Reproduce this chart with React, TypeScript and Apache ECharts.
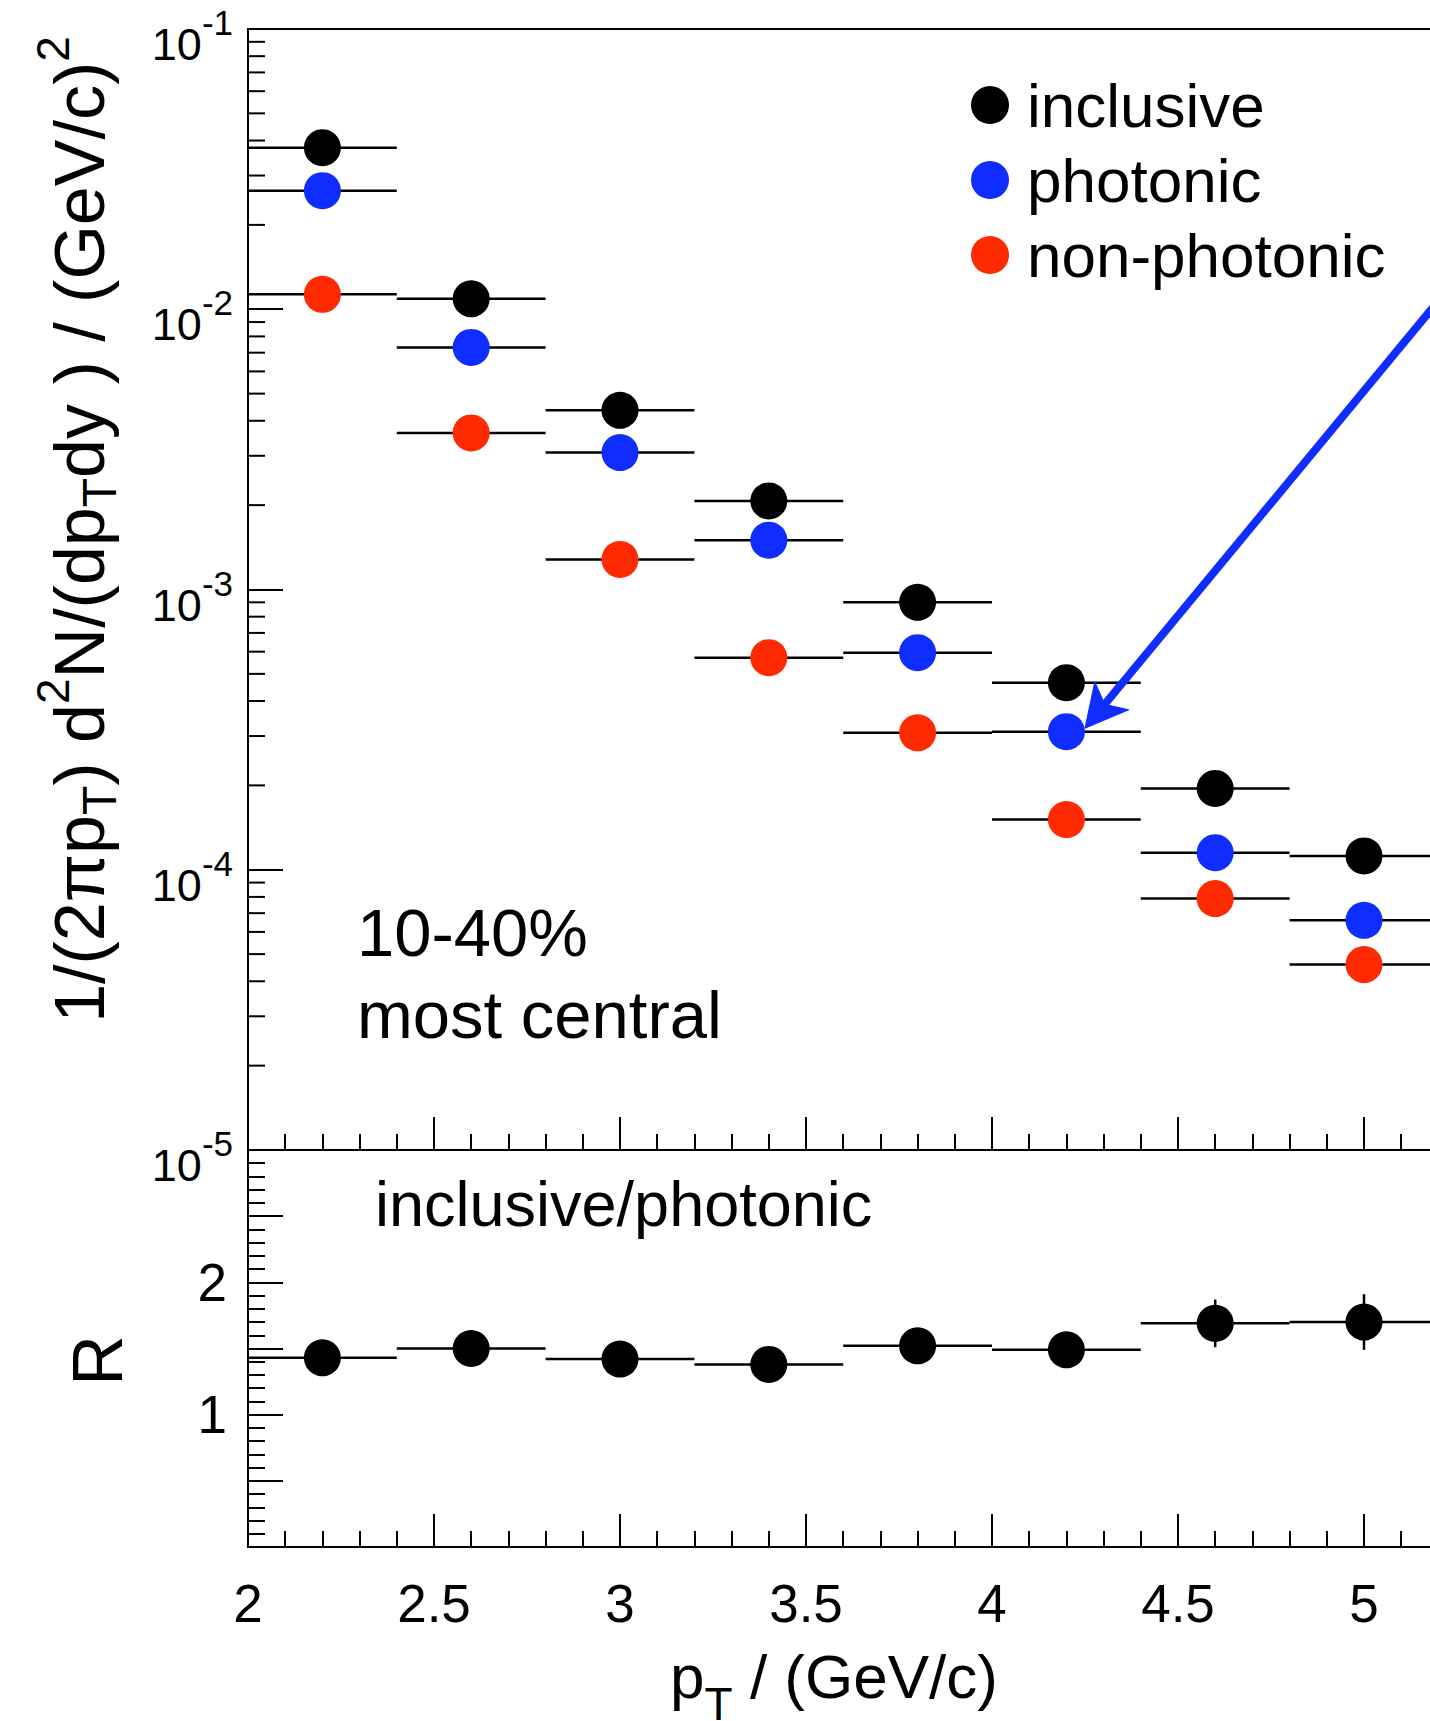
import { useEffect, useRef } from "react";
import * as echarts from "echarts";

// ---- data ----
const ptCenters = [2.2, 2.6, 3.0, 3.4, 3.8, 4.2, 4.6, 5.0];
const ptHalfWidth = [0.2, 0.2, 0.2, 0.2, 0.2, 0.2, 0.2, 0.2];
const inclusive = [0.0377, 0.0109, 0.00436, 0.00207, 0.0009, 0.000465, 0.000195, 0.000112];
const photonic = [0.0265, 0.00731, 0.00308, 0.0015, 0.000595, 0.000311, 0.000115, 0.000066];
const nonPhotonic = [0.0113, 0.00362, 0.00128, 0.000571, 0.000308, 0.000151, 0.0000789, 0.0000459];
const ratio = [1.43, 1.5, 1.42, 1.38, 1.52, 1.49, 1.69, 1.7];
const ratioErr = [0.05, 0.05, 0.06, 0.07, 0.08, 0.09, 0.18, 0.21];
const seriesNames = ["inclusive", "photonic", "non-photonic"];
const seriesColors = ["#000000", "#0f2dff", "#ff2a00"];
const logDecades = [-5, -4, -3, -2];
const logMinorMultipliers = [2, 3, 4, 5, 6, 7, 8, 9];
const ratioLabels = [1, 2];
const arrowTip = [4.25, 3.2e-4];
const arrowTail = [5.45, 0.027];

const FONT = "'Liberation Sans', Arial, Helvetica, sans-serif";
const X_MIN = 2;
const X_MAX = 5.5;

export default function App() {
  const ref = useRef<HTMLDivElement>(null);

  useEffect(() => {
    const chart = echarts.init(ref.current!, null, { renderer: "svg" });

    const spectra = [inclusive, photonic, nonPhotonic];
    const xErrData: number[][] = [];
    spectra.forEach((arr) =>
      arr.forEach((v, i) => xErrData.push([ptCenters[i], v, ptHalfWidth[i]]))
    );
    const minorTickData: number[][] = [];
    logDecades.forEach((e) =>
      logMinorMultipliers.forEach((m) => minorTickData.push([X_MIN, m * Math.pow(10, e)]))
    );
    const ratioErrData = ratio.map((v, i) => [ptCenters[i], v, ptHalfWidth[i], ratioErr[i]]);

    const xAxisCommon = {
      type: "value",
      min: X_MIN,
      max: X_MAX,
      interval: 0.5,
      splitLine: { show: false },
      axisLine: { show: true, onZero: false, lineStyle: { color: "#000", width: 2 } },
      axisTick: { show: true, inside: true, length: 33, lineStyle: { color: "#000", width: 2 } },
      minorTick: { show: true, splitNumber: 5, length: 16, lineStyle: { color: "#000", width: 2 } },
    };

    const option: any = {
      animation: false,
      backgroundColor: "#fff",
      textStyle: { fontFamily: FONT, color: "#000" },
      grid: [
        {
          left: 248, top: 29, width: 1302, height: 1121,
          show: true, borderColor: "#000", borderWidth: 2,
          containLabel: false, outerBoundsMode: "none",
        },
        {
          left: 248, top: 1150, width: 1302, height: 397,
          show: true, borderColor: "#000", borderWidth: 2,
          containLabel: false, outerBoundsMode: "none",
        },
      ],
      legend: {
        data: seriesNames,
        orient: "vertical",
        left: 966,
        top: 69,
        itemWidth: 64,
        itemHeight: 38,
        itemGap: 13,
        icon: "circle",
        textStyle: { fontSize: 62, color: "#000", fontFamily: FONT },
      },
      xAxis: [
        { ...xAxisCommon, gridIndex: 0, axisLabel: { show: false } },
        {
          ...xAxisCommon,
          gridIndex: 1,
          axisLabel: {
            show: true,
            fontSize: 53,
            margin: 30,
            color: "#000",
            fontFamily: FONT,
            formatter: (v: number) => (v > 5.25 ? "" : String(v)),
          },
          name: "{a|p}{sub|T}{a| / (GeV/c)}",
          nameLocation: "middle",
          nameGap: 98,
          nameTextStyle: {
            padding: [0, 130, 0, 0],
            rich: {
              a: { fontSize: 62, fontFamily: FONT, color: "#000", verticalAlign: "top" },
              sub: { fontSize: 46, fontFamily: FONT, color: "#000", verticalAlign: "top", padding: [36, 0, 0, 0] },
            },
          },
        },
      ],
      yAxis: [
        {
          type: "log",
          logBase: 10,
          gridIndex: 0,
          min: 1e-5,
          max: 1e-1,
          splitLine: { show: false },
          axisLine: { show: true, onZero: false, lineStyle: { color: "#000", width: 2 } },
          axisTick: { show: true, inside: true, length: 35, lineStyle: { color: "#000", width: 2 } },
          minorTick: { show: false },
          axisLabel: {
            show: true,
            showMinLabel: true,
            showMaxLabel: true,
            margin: 15,
            formatter: (v: number) => {
              const e = Math.round(Math.log10(v));
              return `{b|10}{s|${e}}`;
            },
            rich: {
              b: { fontSize: 45, fontFamily: FONT, color: "#000", verticalAlign: "top", padding: [31, 0, 0, 0] },
              s: { fontSize: 35, fontFamily: FONT, color: "#000", verticalAlign: "top", padding: [14, 0, 0, 0] },
            },
          },
          name:
            "{a|1/(2πp}{sub|T}{a|) d}{sup|2}{a|N/(dp}{sub|T}{a|dy ) / (GeV/c)}{sup|2}",
          nameLocation: "middle",
          nameRotate: 90,
          nameGap: 125,
          nameTextStyle: {
            padding: [0, 0, 0, 120],
            rich: {
              a: { fontSize: 70, fontFamily: FONT, color: "#000", verticalAlign: "top", padding: [30, 0, 0, 0] },
              sub: { fontSize: 48, fontFamily: FONT, color: "#000", verticalAlign: "top", padding: [60, 0, 0, 0] },
              sup: { fontSize: 46, fontFamily: FONT, color: "#000", verticalAlign: "top", padding: [15, 0, 0, 0] },
            },
          },
        },
        {
          type: "value",
          gridIndex: 1,
          min: 0,
          max: 3,
          interval: 0.5,
          splitLine: { show: false },
          axisLine: { show: true, onZero: false, lineStyle: { color: "#000", width: 2 } },
          axisTick: { show: true, inside: true, length: 35, lineStyle: { color: "#000", width: 2 } },
          minorTick: { show: true, splitNumber: 5, length: 17, lineStyle: { color: "#000", width: 2 } },
          axisLabel: {
            show: true,
            fontSize: 53,
            margin: 21,
            color: "#000",
            fontFamily: FONT,
            formatter: (v: number) => (ratioLabels.indexOf(v) >= 0 ? String(v) : ""),
          },
          name: "R",
          nameLocation: "middle",
          nameRotate: 90,
          nameGap: 115,
          nameTextStyle: { fontSize: 70, fontFamily: FONT, color: "#000", padding: [0, 24, 0, 0] },
        },
      ],
      series: [
        {
          type: "custom",
          name: "xerr",
          xAxisIndex: 0,
          yAxisIndex: 0,
          z: 2,
          silent: true,
          data: xErrData,
          encode: { x: 0, y: 1 },
          renderItem: (_p: any, api: any) => {
            const x = api.value(0);
            const y = api.value(1);
            const hw = api.value(2);
            const a = api.coord([x - hw, y]);
            const b = api.coord([x + hw, y]);
            return {
              type: "line",
              shape: { x1: a[0], y1: a[1], x2: b[0], y2: b[1] },
              style: { stroke: "#000", lineWidth: 2.5 },
            };
          },
        },
        {
          type: "custom",
          name: "logMinorTicks",
          xAxisIndex: 0,
          yAxisIndex: 0,
          z: 2,
          silent: true,
          data: minorTickData,
          encode: { x: 0, y: 1 },
          renderItem: (_p: any, api: any) => {
            const p = api.coord([api.value(0), api.value(1)]);
            return {
              type: "line",
              shape: { x1: p[0], y1: p[1], x2: p[0] + 17, y2: p[1] },
              style: { stroke: "#000", lineWidth: 2 },
            };
          },
        },
        ...spectra.map((arr, k) => ({
          type: "scatter",
          name: seriesNames[k],
          xAxisIndex: 0,
          yAxisIndex: 0,
          z: 3,
          symbol: "circle",
          symbolSize: 37,
          itemStyle: { color: seriesColors[k], opacity: 1 },
          data: arr.map((v, i) => [ptCenters[i], v]),
        })),
        {
          type: "custom",
          name: "ratioErr",
          xAxisIndex: 1,
          yAxisIndex: 1,
          z: 2,
          silent: true,
          data: ratioErrData,
          encode: { x: 0, y: 1 },
          renderItem: (_p: any, api: any) => {
            const x = api.value(0);
            const y = api.value(1);
            const hw = api.value(2);
            const ey = api.value(3);
            const a = api.coord([x - hw, y]);
            const b = api.coord([x + hw, y]);
            const c = api.coord([x, y - ey]);
            const d = api.coord([x, y + ey]);
            return {
              type: "group",
              children: [
                { type: "line", shape: { x1: a[0], y1: a[1], x2: b[0], y2: b[1] }, style: { stroke: "#000", lineWidth: 2.5 } },
                { type: "line", shape: { x1: c[0], y1: c[1], x2: d[0], y2: d[1] }, style: { stroke: "#000", lineWidth: 2.5 } },
              ],
            };
          },
        },
        {
          type: "scatter",
          name: "inclusive/photonic",
          xAxisIndex: 1,
          yAxisIndex: 1,
          z: 3,
          symbol: "circle",
          symbolSize: 37,
          itemStyle: { color: "#000", opacity: 1 },
          data: ratio.map((v, i) => [ptCenters[i], v]),
        },
      ],
    };

    chart.setOption(option);

    const tip = chart.convertToPixel({ gridIndex: 0 } as any, arrowTip) as number[];
    const tail = chart.convertToPixel({ gridIndex: 0 } as any, arrowTail) as number[];
    const dx = tail[0] - tip[0];
    const dy = tail[1] - tip[1];
    const len = Math.sqrt(dx * dx + dy * dy);
    const ux = dx / len;
    const uy = dy / len;
    const px = -uy;
    const py = ux;
    const headLen = 42;
    const headHalf = 22;
    const notch = 31;
    const b1 = [tip[0] + ux * headLen + px * headHalf, tip[1] + uy * headLen + py * headHalf];
    const b2 = [tip[0] + ux * headLen - px * headHalf, tip[1] + uy * headLen - py * headHalf];
    const nt = [tip[0] + ux * notch, tip[1] + uy * notch];

    const textStyle = (text: string, size: number) => ({
      text,
      fontSize: size,
      fontFamily: FONT,
      fill: "#000",
      align: "left",
      verticalAlign: "middle",
      textAlign: "left",
      textVerticalAlign: "middle",
    });

    chart.setOption({
      graphic: [
        { type: "text", id: "cent1", x: 357, y: 932, style: textStyle("10-40%", 67), z: 10 },
        { type: "text", id: "cent2", x: 357, y: 1014, style: textStyle("most central", 67), z: 10 },
        { type: "text", id: "ratioTitle", x: 375, y: 1204, style: textStyle("inclusive/photonic", 63), z: 10 },
        {
          type: "line",
          id: "arrowLine",
          shape: { x1: tail[0], y1: tail[1], x2: nt[0], y2: nt[1] },
          style: { stroke: "#0f2dff", lineWidth: 8 },
          z: 10,
        },
        {
          type: "polygon",
          id: "arrowHead",
          shape: { points: [tip, b1, nt, b2] },
          style: { fill: "#0f2dff", stroke: "#0f2dff", lineWidth: 1 },
          z: 10,
        },
      ],
    });

    return () => chart.dispose();
  }, []);

  return (
    <div
      style={{
        position: "fixed",
        left: 0,
        top: 0,
        width: 1430,
        height: 1721,
        overflow: "hidden",
        background: "#fff",
      }}
    >
      <div ref={ref} style={{ width: 1700, height: 1721 }} />
    </div>
  );
}
